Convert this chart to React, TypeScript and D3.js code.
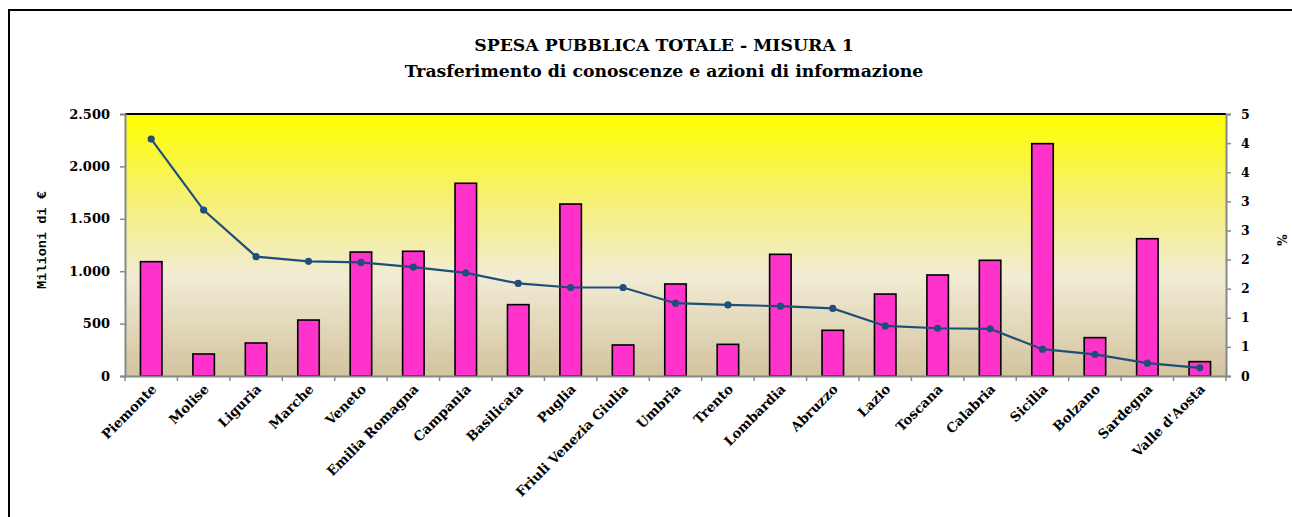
import * as d3 from "d3";
import React, { useEffect, useRef } from "react";

const regions = [
  "Piemonte", "Molise", "Liguria", "Marche", "Veneto", "Emilia Romagna",
  "Campania", "Basilicata", "Puglia", "Friuli Venezia Giulia", "Umbria",
  "Trento", "Lombardia", "Abruzzo", "Lazio", "Toscana", "Calabria",
  "Sicilia", "Bolzano", "Sardegna", "Valle d'Aosta",
];

// spesa pubblica, milioni di euro
const spesa = [
  1091, 210, 315, 534, 1183, 1190, 1839, 681, 1641, 296, 878, 302, 1161,
  436, 782, 964, 1104, 2217, 366, 1310, 137,
];

// quota misura 1, %
const percentuale = [
  4.07, 2.85, 2.05, 1.97, 1.95, 1.87, 1.77, 1.59, 1.52, 1.52, 1.25, 1.22,
  1.2, 1.16, 0.86, 0.82, 0.81, 0.46, 0.37, 0.22, 0.14,
];

const leftTicks = [0, 500, 1000, 1500, 2000, 2500];
const rightTicks = [0, 0.5, 1, 1.5, 2, 2.5, 3, 3.5, 4, 4.5];

const titleLines = [
  "SPESA PUBBLICA TOTALE  - MISURA 1",
  "Trasferimento di conoscenze e azioni di informazione",
];

function App() {
  const ref = useRef<SVGSVGElement | null>(null);

  useEffect(() => {
    const svg = d3.select(ref.current);
    svg.selectAll("*").remove();

    const W = 1292, H = 517;
    const left = 125, right = 1226, top = 114, bottom = 376;
    const font = "'DejaVu Serif', serif";

    // frame (only top and left edges are in view)
    svg.append("path")
      .attr("d", `M9,${H} L9,10 L${W},10`)
      .attr("fill", "none")
      .attr("stroke", "black").attr("stroke-width", 2);

    const x = d3.scaleBand().domain(regions).range([left, right]).paddingInner(0.59).paddingOuter(0.295);
    const step = x.step();
    const y = d3.scaleLinear().domain([0, 2500]).range([bottom, top]);
    const y2 = d3.scaleLinear().domain([0, 4.5]).range([bottom, top]);

    const defs = svg.append("defs");
    const grad = defs.append("linearGradient")
      .attr("id", "bg").attr("x1", 0).attr("y1", 0).attr("x2", 0).attr("y2", 1);
    [
      [0, "#FFFF00"],
      [0.3, "#F6F16B"],
      [0.62, "#F1ECD4"],
      [1, "#D3C39F"],
    ].forEach(([o, c]) => grad.append("stop").attr("offset", o as number).attr("stop-color", c as string));

    svg.append("rect")
      .attr("x", left).attr("y", top)
      .attr("width", right - left).attr("height", bottom - top)
      .attr("fill", "url(#bg)");

    // title
    svg.append("g")
      .selectAll("text")
      .data(titleLines)
      .enter()
      .append("text")
      .attr("x", 664)
      .attr("y", (d, i) => 51 + i * 26)
      .attr("text-anchor", "middle")
      .attr("font-family", font)
      .attr("font-weight", "bold")
      .attr("font-size", "17.3px")
      .text((d) => d);

    // bars
    svg.append("g")
      .selectAll("rect")
      .data(spesa)
      .enter()
      .append("rect")
      .attr("x", (d, i) => x(regions[i])!)
      .attr("y", (d) => y(d))
      .attr("width", x.bandwidth())
      .attr("height", (d) => bottom - y(d))
      .attr("fill", "#FF33CC")
      .attr("stroke", "black")
      .attr("stroke-width", 1.6);

    // plot top border
    svg.append("line")
      .attr("x1", left).attr("x2", right).attr("y1", top).attr("y2", top)
      .attr("stroke", "black").attr("stroke-width", 2);

    // axes
    const axisColor = "#888888";
    const gl = svg.append("g").attr("transform", `translate(${left},0)`)
      .call(d3.axisLeft(y).tickValues(leftTicks).tickSize(5).tickPadding(10)
        .tickFormat((d) => d3.format(",")(d as number).replace(/,/g, ".")));
    const gr = svg.append("g").attr("transform", `translate(${right},0)`)
      .call(d3.axisRight(y2).tickValues(rightTicks).tickSize(5).tickPadding(10)
        .tickFormat((d) => String(Math.floor((d as number) + 0.5))));
    const gb = svg.append("g").attr("transform", `translate(0,${bottom})`)
      .call(d3.axisBottom(x).tickSize(0).tickFormat(() => ""));

    [gl, gr, gb].forEach((g) => {
      g.select(".domain").attr("stroke", axisColor).attr("stroke-width", 2);
      g.selectAll(".tick line").attr("stroke", axisColor).attr("stroke-width", 1.5);
      g.selectAll("text")
        .attr("font-family", font)
        .attr("font-weight", "bold")
        .attr("font-size", "13px")
        .attr("fill", "black");
    });
    gr.selectAll("text").attr("font-size", "12.5px");

    // category boundary ticks
    svg.append("g")
      .selectAll("line")
      .data(d3.range(regions.length + 1))
      .enter()
      .append("line")
      .attr("x1", (i) => left + i * step)
      .attr("x2", (i) => left + i * step)
      .attr("y1", bottom)
      .attr("y2", bottom + 5)
      .attr("stroke", axisColor)
      .attr("stroke-width", 1.5);

    // category labels
    svg.append("g")
      .selectAll("text")
      .data(regions)
      .enter()
      .append("text")
      .attr("transform", (d) => `translate(${x(d)! + x.bandwidth() / 2 + 6},${bottom + 14}) rotate(-45)`)
      .attr("text-anchor", "end")
      .attr("font-family", font)
      .attr("font-weight", "bold")
      .attr("font-size", "13.3px")
      .text((d) => d);

    // line
    const line = d3.line<number>()
      .x((d, i) => x(regions[i])! + x.bandwidth() / 2)
      .y((d) => y2(d));
    svg.append("path")
      .datum(percentuale)
      .attr("d", line)
      .attr("fill", "none")
      .attr("stroke", "#1F4E79")
      .attr("stroke-width", 2.2);
    svg.append("g")
      .selectAll("circle")
      .data(percentuale)
      .enter()
      .append("circle")
      .attr("cx", (d, i) => x(regions[i])! + x.bandwidth() / 2)
      .attr("cy", (d) => y2(d))
      .attr("r", 3.6)
      .attr("fill", "#1F4E79");

    // axis titles
    svg.append("text")
      .attr("transform", `translate(46,240) rotate(-90)`)
      .attr("text-anchor", "middle")
      .attr("font-family", "'Liberation Mono', monospace")
      .attr("font-weight", "bold")
      .attr("font-size", "13.6px")
      .text("Milioni di €");
    svg.append("text")
      .attr("transform", `translate(1287,240) rotate(-90)`)
      .attr("text-anchor", "middle")
      .attr("font-family", font)
      .attr("font-weight", "bold")
      .attr("font-size", "12px")
      .text("%");
  }, []);

  return (
    <svg
      ref={ref}
      width={1292}
      height={517}
      style={{ position: "absolute", left: 0, top: 0, display: "block" }}
    />
  );
}

export default App;
